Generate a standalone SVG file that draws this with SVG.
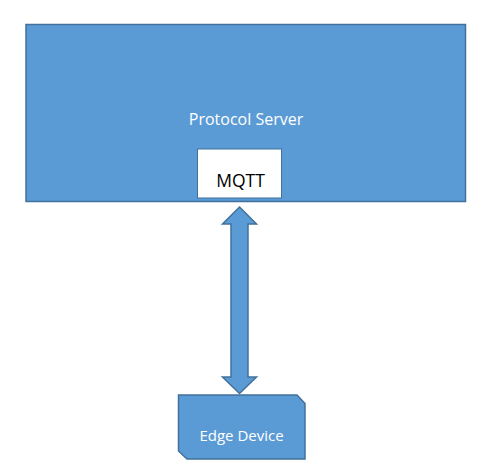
<svg xmlns="http://www.w3.org/2000/svg" width="491" height="474" viewBox="0 0 491 474">
<style>
.shape{fill:#5B9BD5;stroke:#41719C;stroke-width:1.5}
.lbl{font-family:"Open Sans","Noto Sans","DejaVu Sans",sans-serif;text-anchor:middle}
.w{fill:#FFFFFF}
.k{fill:#000000}
</style>
<rect width="491" height="474" fill="#FFFFFF"/>
<g id="protocol-server">
<rect class="shape" x="26" y="24.5" width="439.5" height="177"/>
<text class="lbl w" x="246" y="125" font-size="16">Protocol Server</text>
</g>
<g id="mqtt">
<rect x="197.5" y="149" width="84" height="49" fill="#FFFFFF" stroke="#41719C" stroke-width="1"/>
<text class="lbl k" x="240.5" y="187" font-size="17.5">MQTT</text>
</g>
<g id="connectors">
<path class="shape" d="M239.5,207 L256.5,224 L248,224 L248,377 L256.5,377 L239.5,393.5 L222.5,377 L231,377 L231,224 L222.5,224 Z"/>
</g>
<g id="edge-device">
<path class="shape" d="M178.5,395 L297,395 L305,403.5 L305,459 L187,459 L178.5,451 Z"/>
<text class="lbl w" x="241.5" y="441" font-size="15">Edge Device</text>
</g>
</svg>
